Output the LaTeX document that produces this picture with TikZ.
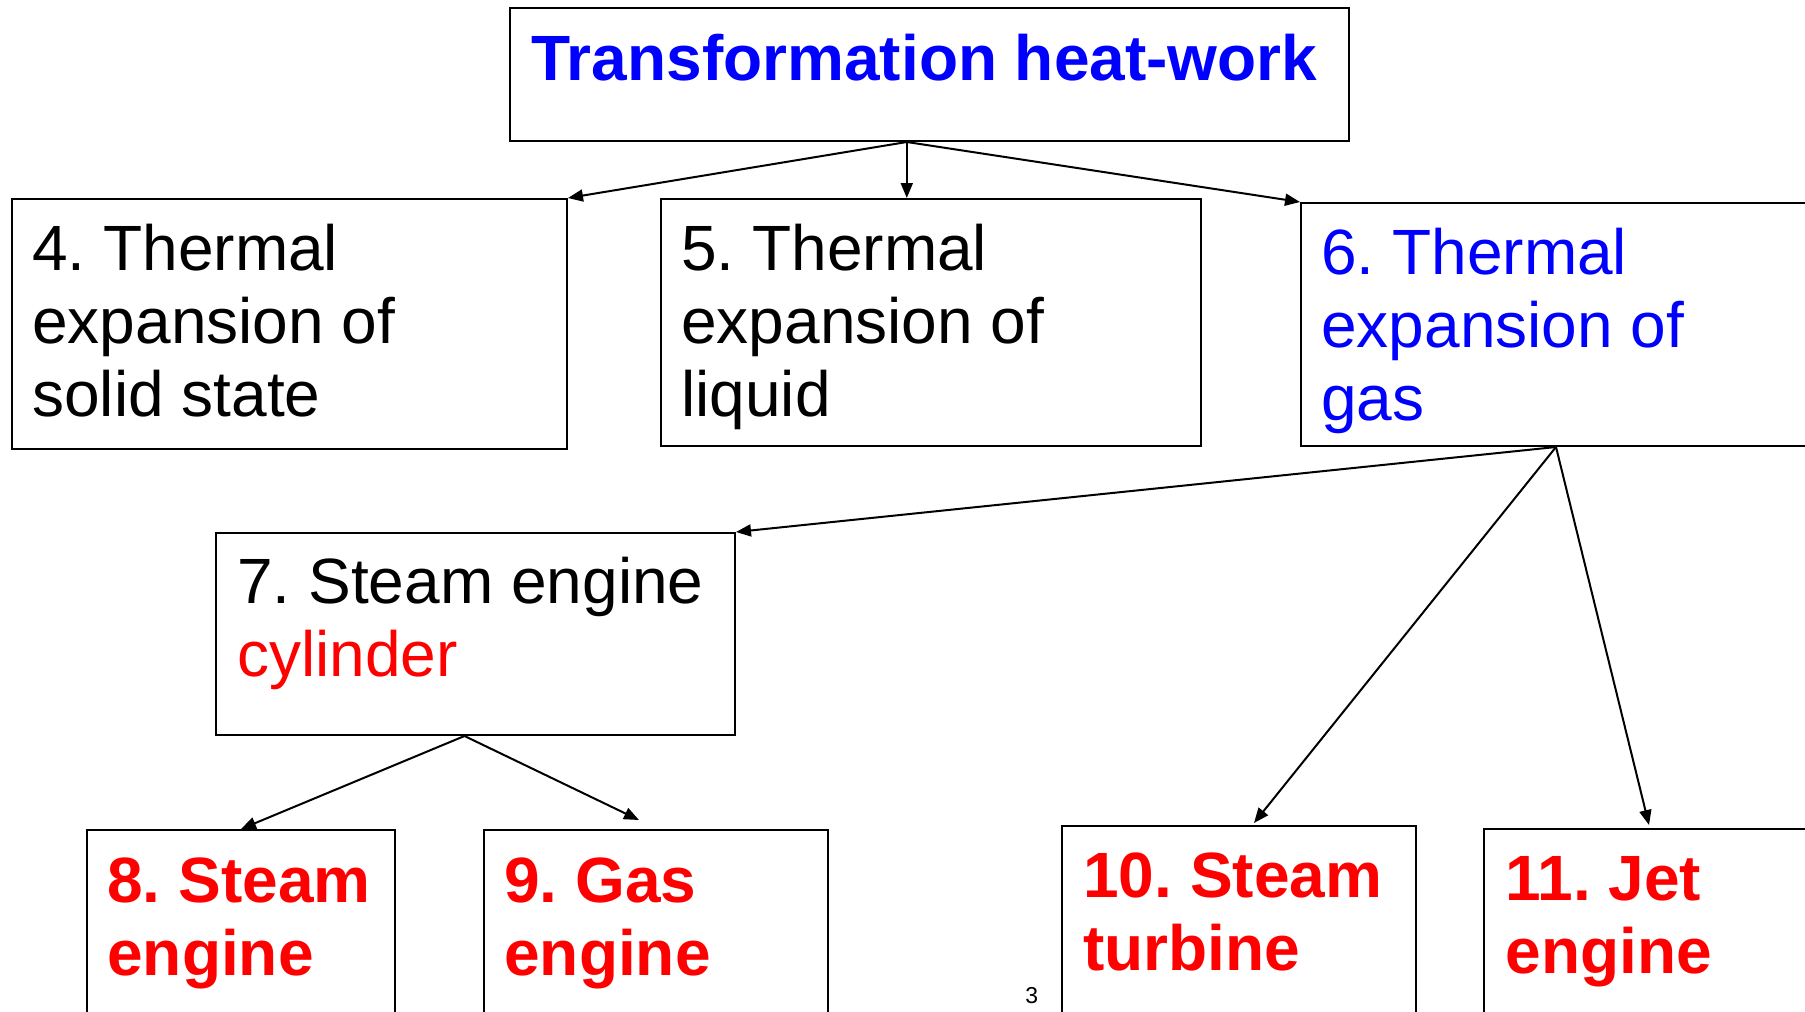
\documentclass[tikz,border=0pt]{standalone}
\usepackage{fontspec}
\setmainfont{Liberation Sans}
\usetikzlibrary{arrows.meta,calc}
\definecolor{tblue}{RGB}{0,0,255}
\definecolor{tred}{RGB}{255,0,0}
\frenchspacing
\begin{document}
\begin{tikzpicture}[x=0.5pt,y=-0.5pt,
  box/.style={draw=black,line width=1pt,inner sep=0pt,anchor=north west},
  txt/.style={inner sep=0pt,anchor=base west,align=left,font=\fontsize{32}{36.5}\selectfont},
  btxt/.style={txt,font=\fontsize{32}{36.5}\selectfont\bfseries},
  conn/.style={line width=1pt,-{Triangle[length=7.5pt,width=6pt]}}]
\useasboundingbox (0,0) rectangle (1805,1012);
\clip (0,0) rectangle (1805,1012);
\newcommand\mybox[5]{\node[box,minimum width=#4*0.5pt,minimum height=#5*0.5pt] (#1) at (#2,#3) {};}
% boxes
\mybox{top}{509}{7}{839}{133}
\mybox{b4}{11}{198}{555}{250}
\mybox{b5}{660}{198}{540}{247}
\mybox{b6}{1300}{202}{510}{243}
\mybox{b7}{215}{532}{519}{202}
\mybox{b8}{86}{829}{308}{250}
\mybox{b9}{483}{829}{344}{250}
\mybox{b10}{1061}{825}{354}{250}
\mybox{b11}{1483}{828}{354}{250}
% texts (anchored at the baseline of the last line)
\node[btxt,text=tblue] (ttop) at (531,80) {Transformation heat-work};
\node[txt] (t4) at (32,416) {4. Thermal\\expansion of\\solid state};
\node[txt] (t5) at (681,416) {5. Thermal\\expansion of\\liquid};
\node[txt,text=tblue] (t6) at (1321,420) {6. Thermal\\expansion of\\gas};
\node[txt] (t7) at (237,676) {7. Steam engine\\\textcolor{tred}{cylinder}};
\node[btxt,text=tred] (t8) at (107,975) {8. Steam\\engine};
\node[btxt,text=tred] (t9) at (504,975) {9. Gas\\engine};
\node[btxt,text=tred] (t10) at (1083,970) {10. Steam\\turbine};
\node[btxt,text=tred] (t11) at (1505,973) {11. Jet\\engine};
\node[inner sep=0pt,anchor=base west,font=\fontsize{11.5}{13}\selectfont] (pg) at (1025,1003) {3};
% connectors
\coordinate (o1) at ($(top.south west)!0.473!(top.south east)$);
\coordinate (o7) at ($(b7.south)+(-11,0)$);
\draw[conn] (o1) -- (b4.north east);
\draw[conn] (o1) -- (o1 |- b5.north);
\draw[conn] (o1) -- (b6.north west);
\draw[conn] (b6.south) -- (b7.north east);
\draw[conn] (b6.south) -- ($(b10.north)+(15,-2)$);
\draw[conn] (b6.south) -- ($(b11.north)+(-12,-3)$);
\draw[conn] (o7) -- (b8.north);
\draw[conn] (o7) -- ($(b9.north)+(-17,-9)$);
\end{tikzpicture}
\end{document}
